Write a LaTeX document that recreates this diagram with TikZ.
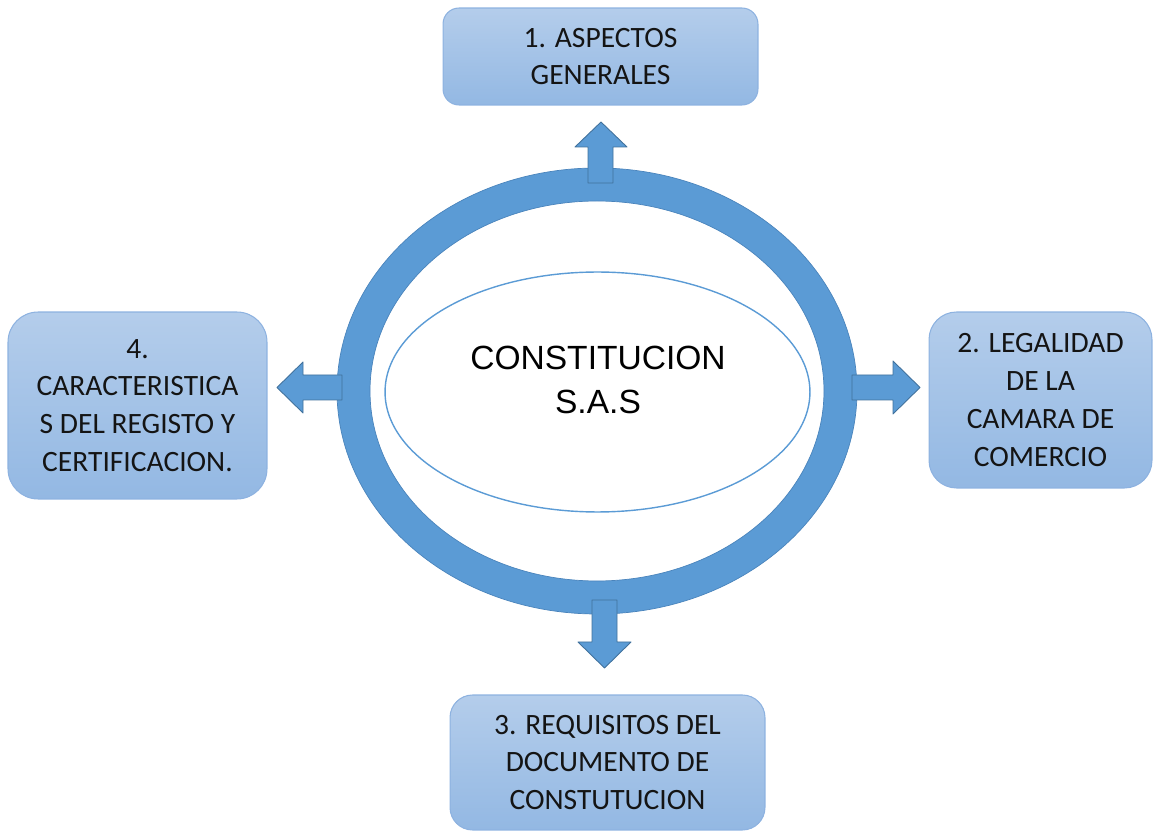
\documentclass[tikz,border=0pt]{standalone}
\usepackage{fontspec}
\setmainfont{Carlito}
\newfontfamily\arialfont{Liberation Sans}
\usetikzlibrary{shapes.geometric}
\definecolor{ringblue}{HTML}{5B9BD5}
\definecolor{ringedge}{HTML}{4A84BC}
\definecolor{arrowedge}{HTML}{41719C}
\definecolor{boxtop}{HTML}{B4CDEB}
\definecolor{boxbot}{HTML}{93B8E3}
\definecolor{boxedge}{HTML}{8DB2E0}
\definecolor{boxtext}{HTML}{141414}
\begin{document}
\begin{tikzpicture}[x=0.02cm, y=-0.02cm, line join=round,
	stagebox/.style={rectangle, draw=boxedge, line width=0.6pt, top color=boxtop, bottom color=boxbot, align=center, text=boxtext, inner sep=0pt, font=\fontsize{16.8}{21.5}\selectfont},
	blockarrow/.style={fill=ringblue, draw=arrowedge, line width=0.5pt}]
	\useasboundingbox (0,0) rectangle (1154,834);
	% ring and inner ellipse
	\draw[ringedge, line width=0.4pt, fill=ringblue, even odd rule] (597,391) ellipse [x radius=260, y radius=223] (597,391) ellipse [x radius=227, y radius=190];
	\node[ellipse, draw=ringblue, line width=0.8pt, minimum width=8.5cm, minimum height=4.8cm, inner sep=0pt] (core) at (597.5,392) {};
	\node[align=center, font=\arialfont\fontsize{19.1}{25.5}\selectfont] (title) at (598,380) {CONSTITUCION\\S.A.S};
	% boxes
	\node[stagebox, minimum width=6.3cm, minimum height=1.94cm, rounded corners=0.32cm] (asp) at (600.5,56.5) {1. ASPECTOS\\GENERALES};
	\node[stagebox, minimum width=4.46cm, minimum height=3.52cm, rounded corners=0.55cm] (leg) at (1040.5,400) {2. LEGALIDAD\\DE LA\\CAMARA DE\\COMERCIO};
	\node[stagebox, minimum width=6.3cm, minimum height=2.7cm, rounded corners=0.45cm] (req) at (607.5,762.5) {3. REQUISITOS DEL\\DOCUMENTO DE\\CONSTUTUCION};
	\node[stagebox, minimum width=5.18cm, minimum height=3.74cm, rounded corners=0.6cm] (car) at (137.5,405.5) {4.\\CARACTERISTICA\\S DEL REGISTO Y\\CERTIFICACION.};
	% block arrows
	\draw[blockarrow] (588,183)--(588,147)--(575,147)--(601,122)--(627,147)--(613,147)--(613,183)--cycle;
	\draw[blockarrow] (852,375)--(893,375)--(893,361)--(920,387.5)--(893,414)--(893,400)--(852,400)--cycle;
	\draw[blockarrow] (342,375)--(303,375)--(303,362)--(277,387.5)--(303,413)--(303,400)--(342,400)--cycle;
	\draw[blockarrow] (592,600)--(592,642)--(578,642)--(604.5,668)--(631,642)--(617,642)--(617,600)--cycle;
\end{tikzpicture}
\end{document}
